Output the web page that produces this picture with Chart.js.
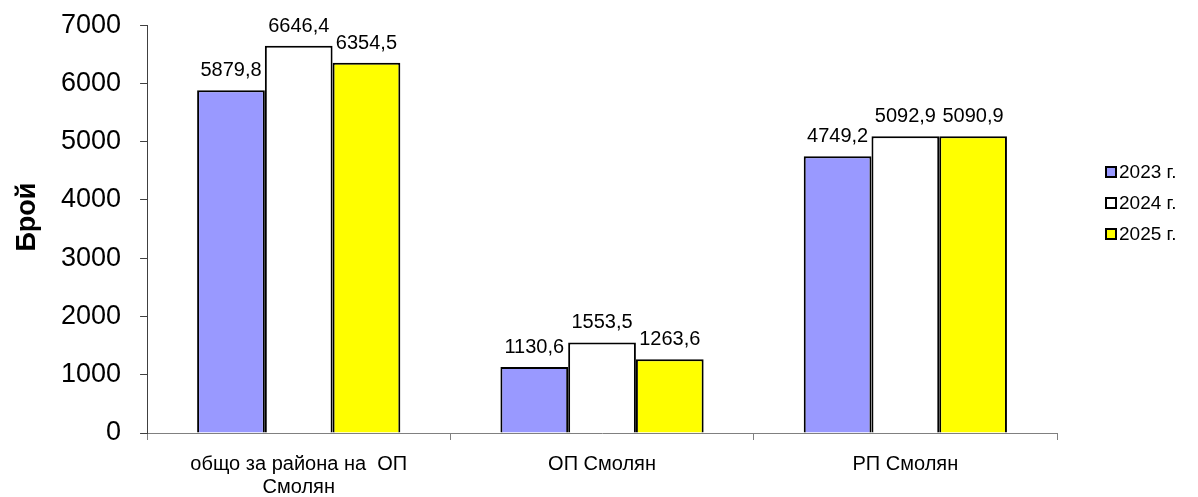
<!DOCTYPE html>
<html>
<head>
<meta charset="utf-8">
<script src="https://cdn.jsdelivr.net/npm/chart.js@4"></script>
<style>
  html, body { margin: 0; padding: 0; background: #fff; }
  #wrap { width: 1198px; height: 497px; }
</style>
</head>
<body>
<div id="wrap"><canvas id="barChart" width="1198" height="497"></canvas></div>
<script>
const categories = [['общо за района на  ОП', 'Смолян'], 'ОП Смолян', 'РП Смолян'];
const seriesNames = ['2023 г.', '2024 г.', '2025 г.'];
const values2023 = [5879.8, 1130.6, 4749.2];
const values2024 = [6646.4, 1553.5, 5092.9];
const values2025 = [6354.5, 1263.6, 5090.9];
const yTicks = [0, 1000, 2000, 3000, 4000, 5000, 6000, 7000];
const yTitle = 'Брой';
const colors = ['#9999FF', '#FFFFFF', '#FFFF00'];

const FONT = "'Liberation Sans', Arial, sans-serif";

// value labels over every bar, comma as decimal separator
const valueLabels = {
    id: 'valueLabels',
    afterDatasetsDraw(chart) {
        const ctx = chart.ctx;
        ctx.save();
        ctx.font = '20px ' + FONT;
        ctx.fillStyle = '#000';
        ctx.textAlign = 'center';
        ctx.textBaseline = 'alphabetic';
        chart.data.datasets.forEach((ds, i) => {
            chart.getDatasetMeta(i).data.forEach((bar, j) => {
                const txt = ds.data[j].toFixed(1).replace('.', ',');
                ctx.fillText(txt, bar.x, bar.y - 14);
            });
        });
        ctx.restore();
    }
};

// y axis title, sits a bit above the middle of the plot like the original
const axisTitle = {
    id: 'axisTitle',
    afterDraw(chart) {
        const ctx = chart.ctx;
        const area = chart.chartArea;
        ctx.save();
        ctx.translate(28, (area.top + area.bottom) / 2 - 12);
        ctx.rotate(-Math.PI / 2);
        ctx.font = 'bold 27px ' + FONT;
        ctx.fillStyle = '#000';
        ctx.textAlign = 'center';
        ctx.textBaseline = 'middle';
        ctx.fillText(yTitle, 0, 0);
        ctx.restore();
    }
};

// legend on the right, small bordered squares
const sideLegend = {
    id: 'sideLegend',
    afterDraw(chart) {
        const ctx = chart.ctx;
        ctx.save();
        ctx.font = '19px ' + FONT;
        ctx.textBaseline = 'middle';
        chart.data.datasets.forEach((ds, i) => {
            const y = 172 + i * 31;
            ctx.fillStyle = ds.backgroundColor;
            ctx.fillRect(1106, y - 5, 10, 10);
            ctx.lineWidth = 2;
            ctx.strokeStyle = '#000';
            ctx.strokeRect(1106, y - 5, 10, 10);
            ctx.fillStyle = '#000';
            ctx.fillText(ds.label, 1119, y + 1);
        });
        ctx.restore();
    }
};

const ctx = document.getElementById('barChart').getContext('2d');
new Chart(ctx, {
    type: 'bar',
    data: {
        labels: categories,
        datasets: [
            { label: seriesNames[0], data: values2023, backgroundColor: colors[0] },
            { label: seriesNames[1], data: values2024, backgroundColor: colors[1] },
            { label: seriesNames[2], data: values2025, backgroundColor: colors[2] }
        ].map(d => Object.assign(d, {
            borderColor: '#000',
            borderWidth: 2,
            barPercentage: 1.0,
            categoryPercentage: 0.67
        }))
    },
    options: {
        responsive: false,
        animation: false,
        layout: { autoPadding: false, padding: { top: 0, right: 141, bottom: -15, left: 42 } },
        plugins: {
            legend: { display: false },
            tooltip: { enabled: false }
        },
        scales: {
            x: {
                grid: {
                    offset: true,
                    drawOnChartArea: false,
                    drawTicks: true,
                    tickLength: 7,
                    color: '#808080'
                },
                border: { display: true, color: '#808080', width: 1 },
                ticks: {
                    color: '#000',
                    font: { family: FONT, size: 20, lineHeight: 1.15 },
                    padding: 13,
                    maxRotation: 0
                }
            },
            y: {
                min: 0,
                max: 7000,
                afterBuildTicks: axis => { axis.ticks = yTicks.map(v => ({ value: v })); },
                grid: {
                    drawOnChartArea: false,
                    drawTicks: true,
                    tickLength: 7,
                    color: '#404040'
                },
                border: { display: true, color: '#404040', width: 1 },
                ticks: {
                    color: '#000',
                    font: { family: FONT, size: 27, lineHeight: 0.45 },
                    padding: 19,
                    callback: v => String(v)
                }
            }
        }
    },
    plugins: [valueLabels, axisTitle, sideLegend]
});
</script>
</body>
</html>
